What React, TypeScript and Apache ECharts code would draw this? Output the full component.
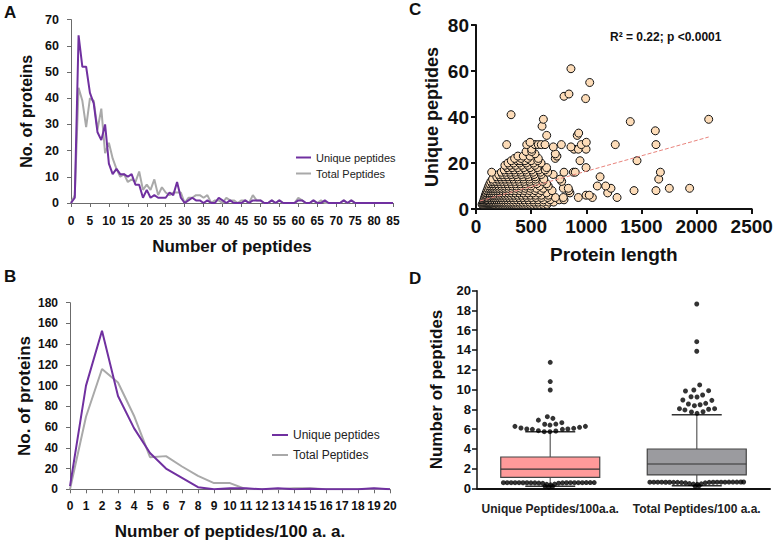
import React, { useEffect, useRef } from "react";
import * as echarts from "echarts";

const FONT = "'Liberation Sans', Arial, sans-serif";

// Panel A: number of proteins by number of peptides (index = peptides 0..85)
const aUnique = [0, 2, 64, 52, 52, 42, 38, 27, 24, 30, 15, 11, 13, 11, 11, 10, 11, 7, 7, 2, 5, 2, 3, 2, 2, 2, 4, 3, 8, 2, 0, 1, 2, 1, 1, 0, 1, 0, 0, 2, 1, 0, 1, 0, 0, 0, 1, 0, 1, 1, 1, 0, 0, 1, 0, 1, 0, 0, 0, 0, 1, 1, 0, 0, 1, 0, 0, 1, 0, 0, 0, 0, 1, 0, 1, 0, 0, 0, 0, 0, 0, 0, 0, 0, 0, 0];
const aTotal = [0, 3, 44, 39, 29, 40, 39, 28, 36, 19, 23, 17, 13, 10, 11, 8, 9, 8, 12, 5, 7, 5, 9, 3, 6, 4, 3, 4, 4, 4, 0, 2, 2, 3, 3, 2, 3, 0, 1, 1, 0, 2, 1, 1, 0, 1, 1, 0, 3, 1, 1, 0, 0, 1, 0, 1, 0, 0, 0, 0, 2, 1, 0, 0, 1, 0, 1, 0, 0, 0, 0, 0, 1, 0, 1, 0, 0, 0, 0, 0, 0, 0, 0, 0, 0, 0];

// Panel B: number of proteins by peptides / 100 a.a. (index = 0..20)
const bUnique = [3, 100, 153, 90, 59, 35, 20, 11, 2, 0, 1, 1, 0, 1, 0, 0.5, 0, 0, 0, 1, 0];
const bTotal = [0, 70, 116, 103, 71, 31, 32, 22, 13, 6, 6, 0, 0, 0, 1, 1, 0, 0, 0, 0.5, 0];

// Panel C: protein length per unique-peptide count
const cRows: [number, number[]][] = [
  [2, [55, 62, 70, 78, 86, 94, 102, 110, 118, 126, 135, 144, 154, 164, 175, 186, 198, 210, 224, 238, 252, 268, 284, 300, 318, 336, 355, 375, 396, 418, 440, 465, 490, 515, 545, 575, 610, 645]],
  [3, [65, 74, 83, 92, 101, 112, 123, 135, 148, 162, 176, 192, 208, 226, 245, 265, 287, 310, 335, 362, 390, 420, 452, 487, 525, 565, 610, 660, 705]],
  [4, [72, 82, 92, 103, 114, 126, 139, 153, 168, 184, 201, 220, 240, 262, 286, 312, 340, 370, 403, 438, 476, 518, 562, 612, 672, 755, 798]],
  [5, [78, 89, 100, 112, 125, 139, 154, 170, 188, 207, 228, 250, 274, 300, 328, 358, 390, 425, 462, 502, 546, 594, 650, 720, 792, 928, 1055, 1279]],
  [6, [85, 97, 110, 124, 139, 155, 173, 192, 213, 236, 260, 286, 314, 345, 378, 414, 452, 494, 540, 592, 655, 998, 1027]],
  [7, [92, 106, 121, 137, 154, 173, 193, 215, 239, 265, 293, 323, 356, 392, 430, 472, 518, 570, 640, 852, 1194]],
  [8, [100, 115, 131, 149, 168, 189, 212, 237, 264, 293, 325, 360, 398, 440, 486, 536, 592, 690, 843, 1433, 1632]],
  [9, [108, 125, 143, 163, 185, 209, 235, 263, 294, 328, 365, 405, 448, 495, 548, 610, 792, 837, 1224, 1753, 1937]],
  [10, [116, 135, 156, 179, 204, 231, 261, 293, 328, 366, 408, 452, 500, 575, 655, 1100, 1176]],
  [11, [125, 146, 169, 194, 222, 252, 285, 321, 360, 402, 447, 496, 552, 640]],
  [12, [135, 158, 183, 211, 241, 274, 310, 349, 392, 438, 488, 542, 606, 777]],
  [13, [150, 199, 230, 263, 300, 340, 384, 432, 484, 540, 615, 762, 1657]],
  [14, [188, 219, 253, 290, 331, 376, 425, 478, 536, 1125]],
  [15, [206, 240, 277, 318, 363, 412, 466, 526, 592, 700]],
  [16, [142, 230, 268, 310, 356, 406, 460, 518, 584, 650, 798, 883, 900, 1672]],
  [17, [256, 298, 344, 394, 448, 506, 570, 628]],
  [18, [282, 328, 378, 432, 490, 555, 640, 998]],
  [19, [262, 308, 358, 412, 470, 534]],
  [20, [290, 340, 395, 455, 520, 590]],
  [21, [320, 372, 399, 444, 500, 560, 943, 1460]],
  [22, [350, 410, 470, 565, 719]],
  [23, [380, 429, 490, 734]],
  [24, [535, 719]],
  [25, [454, 505]],
  [26, [505, 889, 928, 998]],
  [27, [701, 861]],
  [28, [278, 460, 535, 565, 592, 626, 774, 955, 1263, 1632]],
  [29, [490, 1000]],
  [32, [641, 918]],
  [33, [931]],
  [34, [1626]],
  [36, [599]],
  [38, [1399]],
  [39, [611, 2110]],
  [41, [318]],
  [48, [994]],
  [49, [798]],
  [50, [843]],
  [55, [1031]],
  [61, [861]],
];
const cTrendX = [36, 2110];
const cTrendY = [3.5, 31.3];

// Panel D: box plots (per 100 a.a.)
const dCategories = ["Unique Peptides/100a.a.", "Total Peptides/100 a.a."];
const dLow = [0.2, 0.25];
const dQ1 = [1.11, 1.35];
const dMedian = [1.95, 2.46];
const dQ3 = [3.17, 3.98];
const dHigh = [5.73, 7.45];

const dUniqueOutX = [1.0, 1.0, 1.0, 0.98, 1.018, 0.919, 0.962, 0.998, 1.038, 1.079, 0.759, 0.8, 0.84, 0.878, 0.919, 0.959, 0.998, 1.038, 1.083, 1.12, 1.16, 1.2, 1.24,
  0.68, 0.706, 0.733, 0.76, 0.787, 0.814, 0.841, 0.868, 0.895, 0.922, 0.949, 0.976, 1.003, 1.03, 1.057, 1.084, 1.111, 1.138, 1.165, 1.192, 1.219, 1.246, 1.273, 1.3, 0.965, 0.99, 1.015];
const dUniqueOutY = [12.75, 10.8, 9.95, 7.25, 7.08, 6.9, 6.48, 6.4, 6.5, 6.64, 6.27, 6.1, 6.0, 5.97, 5.83, 5.73, 5.73, 5.8, 5.97, 6.0, 6.07, 6.17, 6.27,
  0.57, 0.57, 0.57, 0.57, 0.57, 0.56, 0.56, 0.55, 0.55, 0.53, 0.5, 0.4, 0.35, 0.42, 0.52, 0.55, 0.56, 0.57, 0.57, 0.57, 0.57, 0.58, 0.58, 0.58, 0.2, 0.12, 0.18];
const dTotalOutX = [2.0, 2.0, 2.0, 2.02, 1.923, 1.98, 2.081, 1.961, 2.002, 2.04, 1.905, 1.943, 2.023, 2.061, 2.103, 1.984, 1.882, 1.919, 1.964, 2.002, 2.043, 2.081, 2.122,
  1.68, 1.707, 1.734, 1.761, 1.788, 1.815, 1.842, 1.869, 1.896, 1.923, 1.95, 1.977, 2.004, 2.031, 2.058, 2.085, 2.112, 2.139, 2.166, 2.193, 2.22, 2.247, 2.274, 2.301, 2.32, 1.99, 2.015];
const dTotalOutY = [18.65, 14.84, 13.87, 10.46, 9.85, 9.95, 9.88, 9.27, 9.24, 9.44, 8.94, 8.53, 8.46, 8.6, 8.9, 8.36, 8.06, 7.93, 7.72, 7.59, 7.75, 8.0, 8.06,
  0.62, 0.62, 0.62, 0.62, 0.61, 0.61, 0.6, 0.6, 0.58, 0.55, 0.48, 0.42, 0.4, 0.45, 0.55, 0.6, 0.61, 0.62, 0.62, 0.62, 0.63, 0.63, 0.63, 0.64, 0.64, 0.2, 0.25];

const PURPLE = "#7030a0";
const GRAY = "#a9a9a9";

const tickLabel = (size: number, extra: any = {}) => ({
  fontFamily: FONT,
  fontWeight: "bold",
  fontSize: size,
  color: "#111",
  ...extra,
});
const nameStyle = (size: number) => ({
  fontFamily: FONT,
  fontWeight: "bold",
  fontSize: size,
  color: "#111",
});
const plain = (v: number) => String(v);

export default function App() {
  const ref = useRef<HTMLDivElement>(null);
  useEffect(() => {
    if (!ref.current) return;
    const chart = echarts.init(ref.current, null, { renderer: "svg" });

    const cPoints: number[][] = [];
    cRows.forEach(([y, xs]) => xs.forEach((x) => cPoints.push([x, y])));

    const grayAxis = { lineStyle: { color: "#6b6b6b", width: 1 } };
    const blackAxis = (w: number) => ({ lineStyle: { color: "#111", width: w } });

    const option: any = {
      animation: false,
      backgroundColor: "#fff",
      textStyle: { fontFamily: FONT },
      grid: [
        { left: 71, top: 19.6, width: 322, height: 183.4 },
        { left: 70, top: 302.7, width: 320, height: 186.6 },
        { left: 476, top: 25, width: 275.7, height: 184 },
        { left: 477, top: 290.7, width: 293, height: 197.6 },
      ],
      legend: [
        {
          left: 291, top: 147, orient: "vertical", itemGap: 5, itemWidth: 15, itemHeight: 2, icon: "rect",
          textStyle: { fontFamily: FONT, fontSize: 11, color: "#222" },
          data: ["Unique peptides", "Total Peptides"], selectedMode: false,
        },
        {
          left: 267, top: 424, orient: "vertical", itemGap: 8, itemWidth: 16, itemHeight: 2, icon: "rect",
          textStyle: { fontFamily: FONT, fontSize: 12, color: "#222" },
          data: ["Unique peptides", "Total Peptides"], selectedMode: false,
        },
      ],
      xAxis: [
        {
          gridIndex: 0, type: "value", min: 0, max: 85, interval: 5,
          name: "Number of peptides", nameLocation: "middle", nameGap: 35, nameTextStyle: nameStyle(17),
          axisLine: grayAxis, axisTick: { length: 4, lineStyle: { color: "#6b6b6b" } },
          axisLabel: tickLabel(12, { margin: 12 }), splitLine: { show: false },
        },
        {
          gridIndex: 1, type: "value", min: 0, max: 20, interval: 1,
          name: "Number of peptides/100 a. a.", nameLocation: "middle", nameGap: 34, nameTextStyle: nameStyle(17),
          axisLine: grayAxis, axisTick: { length: 4, lineStyle: { color: "#6b6b6b" } },
          axisLabel: tickLabel(12, { margin: 11 }), splitLine: { show: false },
        },
        {
          gridIndex: 2, type: "value", min: 0, max: 2500, interval: 500,
          name: "Protein length", nameLocation: "middle", nameGap: 36, nameTextStyle: nameStyle(19),
          axisLine: blackAxis(2), axisTick: { length: 5, lineStyle: { color: "#111", width: 2 } },
          axisLabel: tickLabel(19, { margin: 8, formatter: plain }), splitLine: { show: false },
        },
        {
          gridIndex: 3, type: "category", data: dCategories,
          axisLine: blackAxis(2), axisTick: { alignWithLabel: true, length: 5, lineStyle: { color: "#111", width: 1.5 } },
          axisLabel: tickLabel(12, { margin: 15, color: "#222", interval: 0, hideOverlap: false }),
        },
        {
          gridIndex: 3, type: "value", min: 0.5, max: 2.5, show: false,
        },
      ],
      yAxis: [
        {
          gridIndex: 0, type: "value", min: 0, max: 70, interval: 10,
          name: "No. of proteins", nameLocation: "middle", nameGap: 37, nameTextStyle: nameStyle(16),
          axisLine: { show: true, ...grayAxis }, axisTick: { show: true, length: 4, lineStyle: { color: "#6b6b6b" } },
          axisLabel: tickLabel(12.5, { margin: 12 }), splitLine: { show: false },
        },
        {
          gridIndex: 1, type: "value", min: 0, max: 180, interval: 20,
          name: "No. of proteins", nameLocation: "middle", nameGap: 37, nameTextStyle: nameStyle(17),
          axisLine: { show: true, ...grayAxis }, axisTick: { show: true, length: 4, lineStyle: { color: "#6b6b6b" } },
          axisLabel: tickLabel(12, { margin: 12 }), splitLine: { show: false },
        },
        {
          gridIndex: 2, type: "value", min: 0, max: 80, interval: 20,
          name: "Unique peptides", nameLocation: "middle", nameGap: 35, nameTextStyle: nameStyle(18),
          axisLine: { show: true, ...blackAxis(2) }, axisTick: { show: true, length: 5, lineStyle: { color: "#111", width: 2 } },
          axisLabel: tickLabel(19, { margin: 7 }), splitLine: { show: false },
        },
        {
          gridIndex: 3, type: "value", min: 0, max: 20, interval: 2,
          name: "Number of peptides", nameLocation: "middle", nameGap: 32, nameTextStyle: nameStyle(17),
          axisLine: { show: true, ...blackAxis(1.5) }, axisTick: { show: true, length: 5, lineStyle: { color: "#111", width: 1.5 } },
          axisLabel: tickLabel(13, { margin: 6 }), splitLine: { show: false },
        },
      ],
      series: [
        {
          name: "Unique peptides", type: "line", xAxisIndex: 0, yAxisIndex: 0, symbol: "none", z: 3,
          lineStyle: { color: PURPLE, width: 2 }, itemStyle: { color: PURPLE },
          data: aUnique.map((v, i) => [i, v]),
        },
        {
          name: "Total Peptides", type: "line", xAxisIndex: 0, yAxisIndex: 0, symbol: "none", z: 2,
          lineStyle: { color: GRAY, width: 2 }, itemStyle: { color: GRAY },
          data: aTotal.map((v, i) => [i, v]),
        },
        {
          name: "Unique peptides", type: "line", xAxisIndex: 1, yAxisIndex: 1, symbol: "none", z: 3,
          lineStyle: { color: PURPLE, width: 2 }, itemStyle: { color: PURPLE },
          data: bUnique.map((v, i) => [i, v]),
        },
        {
          name: "Total Peptides", type: "line", xAxisIndex: 1, yAxisIndex: 1, symbol: "none", z: 2,
          lineStyle: { color: GRAY, width: 2 }, itemStyle: { color: GRAY },
          data: bTotal.map((v, i) => [i, v]),
        },
        {
          type: "scatter", xAxisIndex: 2, yAxisIndex: 2, symbolSize: 8,
          itemStyle: { color: "#fddcb8", borderColor: "#111", borderWidth: 1, opacity: 1 },
          data: cPoints,
        },
        {
          type: "line", xAxisIndex: 2, yAxisIndex: 2, symbol: "none", z: 5,
          lineStyle: { color: "#e8837c", width: 1, type: "dashed" },
          data: cTrendX.map((x, i) => [x, cTrendY[i]]),
        },
        {
          type: "custom", xAxisIndex: 4, yAxisIndex: 3, z: 2,
          data: dLow.map((l, i) => [i + 1, l, dQ1[i], dMedian[i], dQ3[i], dHigh[i]]),
          renderItem: (params: any, api: any) => {
            const x = api.value(0);
            const low = api.coord([x, api.value(1)]);
            const q1 = api.coord([x, api.value(2)]);
            const med = api.coord([x, api.value(3)]);
            const q3 = api.coord([x, api.value(4)]);
            const high = api.coord([x, api.value(5)]);
            const cx = med[0];
            const hw = 49.5;
            const cw = 25;
            const fill = params.dataIndex === 0 ? "#ff9a9a" : "#9b9b9f";
            return {
              type: "group",
              children: [
                { type: "line", shape: { x1: cx, y1: q3[1], x2: cx, y2: high[1] }, style: { stroke: "#7a7a7a", lineWidth: 1.5 } },
                { type: "line", shape: { x1: cx, y1: q1[1], x2: cx, y2: low[1] }, style: { stroke: "#7a7a7a", lineWidth: 1.5 } },
                { type: "line", shape: { x1: cx - cw, y1: high[1], x2: cx + cw, y2: high[1] }, style: { stroke: "#333", lineWidth: 1.5 } },
                { type: "line", shape: { x1: cx - cw, y1: low[1], x2: cx + cw, y2: low[1] }, style: { stroke: "#333", lineWidth: 1.5 } },
                { type: "rect", shape: { x: cx - hw, y: q3[1], width: hw * 2, height: q1[1] - q3[1] }, style: { fill, stroke: "#444", lineWidth: 1.2 } },
                { type: "line", shape: { x1: cx - hw, y1: med[1], x2: cx + hw, y2: med[1] }, style: { stroke: "#333", lineWidth: 1.2 } },
              ],
            };
          },
        },
        {
          type: "scatter", xAxisIndex: 4, yAxisIndex: 3, symbolSize: 5, z: 4,
          itemStyle: { color: "#000" },
          data: dUniqueOutX.map((x, i) => [x, dUniqueOutY[i]]),
        },
        {
          type: "scatter", xAxisIndex: 4, yAxisIndex: 3, symbolSize: 5, z: 4,
          itemStyle: { color: "#000" },
          data: dTotalOutX.map((x, i) => [x, dTotalOutY[i]]),
        },
      ],
      graphic: [
        { type: "text", left: 4, top: 4, style: { text: "A", font: `bold 17px ${FONT}`, fill: "#111" } },
        { type: "text", left: 4, top: 268, style: { text: "B", font: `bold 17px ${FONT}`, fill: "#111" } },
        { type: "text", left: 409, top: 1, style: { text: "C", font: `bold 17px ${FONT}`, fill: "#111" } },
        { type: "text", left: 409, top: 270, style: { text: "D", font: `bold 17px ${FONT}`, fill: "#111" } },
        { type: "text", left: 610, top: 31, style: { text: "R² = 0.22; p <0.0001", font: `bold 12px ${FONT}`, fill: "#111" } },
      ],
    };
    chart.setOption(option);
    return () => chart.dispose();
  }, []);
  return (
    <div
      ref={ref}
      style={{ position: "absolute", left: 0, top: 0, width: 776, height: 543, background: "#fff" }}
    />
  );
}
